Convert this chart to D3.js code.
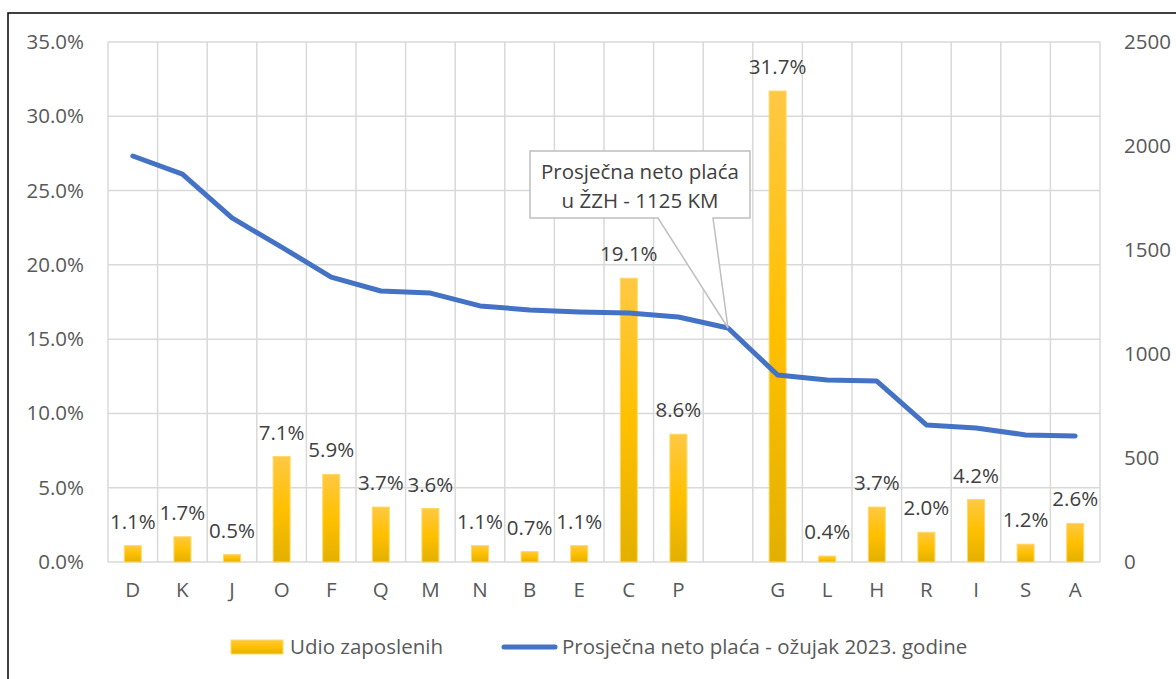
<!DOCTYPE html>
<html>
<head>
<meta charset="utf-8">
<script src="https://cdn.jsdelivr.net/npm/d3@7"></script>
<style>
  body { margin: 0; background: #fff; }
  text { font-family: "Open Sans", sans-serif; }
</style>
</head>
<body>
<div id="graph"></div>
<script>
// categories ("" = the average-wage point, no bar)
var categories = ["D","K","J","O","F","Q","M","N","B","E","C","P","","G","L","H","R","I","S","A"]
// share of employees, %
var shares = [1.1,1.7,0.5,7.1,5.9,3.7,3.6,1.1,0.7,1.1,19.1,8.6,null,31.7,0.4,3.7,2.0,4.2,1.2,2.6]
// average net wage, KM
var wages = [1952,1865,1654,1514,1370,1303,1293,1231,1212,1202,1197,1178,1125,899,875,870,659,644,611,606]
var leftTicks = [0,5,10,15,20,25,30,35]
var rightTicks = [0,500,1000,1500,2000,2500]
var barName = "Udio zaposlenih"
var lineName = "Prosječna neto plaća - ožujak 2023. godine"
var calloutLines = ["Prosječna neto plaća", "u ŽZH - 1125 KM"]

var width = 1176, height = 679
var margin = {top:42, left:108, bottom:117, right:76}
var chartWidth = width - margin.left - margin.right
var chartHeight = height - margin.top - margin.bottom

var svg = d3.select("#graph").append("svg")
    .attr("width", width).attr("height", height)

// outer frame (only left and top visible)
svg.append("rect")
    .attr("x", 8).attr("y", 13)
    .attr("width", 1200).attr("height", 700)
    .attr("fill", "none").attr("stroke", "#000").attr("stroke-width", 1.5)

var defs = svg.append("defs")
var grad = defs.append("linearGradient").attr("id", "barGrad")
    .attr("x1", 0).attr("y1", 0).attr("x2", 0).attr("y2", 1)
grad.append("stop").attr("offset", "0%").attr("stop-color", "#FFC843")
grad.append("stop").attr("offset", "50%").attr("stop-color", "#FFC000")
grad.append("stop").attr("offset", "100%").attr("stop-color", "#E3B000")

var chartLayer = svg.append("g")
    .attr("transform", "translate(" + [margin.left, margin.top] + ")")

var x = d3.scaleBand().domain(d3.range(categories.length))
    .range([0, chartWidth]).paddingInner(0).paddingOuter(0)
var y = d3.scaleLinear().domain([0, 35]).range([chartHeight, 0])
var y2 = d3.scaleLinear().domain([0, 2500]).range([chartHeight, 0])

// gridlines
var grid = chartLayer.append("g").attr("stroke", "#d9d9d9").attr("stroke-width", 1.5)
grid.selectAll("line.h").data(leftTicks).enter().append("line")
    .attr("x1", 0).attr("x2", chartWidth)
    .attr("y1", function(d){ return y(d) }).attr("y2", function(d){ return y(d) })
grid.selectAll("line.v").data(d3.range(categories.length + 1)).enter().append("line")
    .attr("x1", function(d){ return d * x.bandwidth() })
    .attr("x2", function(d){ return d * x.bandwidth() })
    .attr("y1", 0).attr("y2", chartHeight)

// left axis
var leftAxis = chartLayer.append("g")
    .call(d3.axisLeft(y).tickValues(leftTicks).tickSize(0).tickPadding(24)
        .tickFormat(function(d){ return d.toFixed(1) + "%" }))
leftAxis.select(".domain").remove()
leftAxis.selectAll("text").attr("fill", "#595959").style("font-size", "20.5px")

// right axis
var rightAxis = chartLayer.append("g")
    .attr("transform", "translate(" + chartWidth + ",0)")
    .call(d3.axisRight(y2).tickValues(rightTicks).tickSize(0).tickPadding(24)
        .tickFormat(d3.format("d")))
rightAxis.select(".domain").remove()
rightAxis.selectAll("text").attr("fill", "#595959").style("font-size", "20.5px")

// category axis
var bottomAxis = chartLayer.append("g")
    .attr("transform", "translate(0," + chartHeight + ")")
    .call(d3.axisBottom(x).tickSize(0).tickPadding(20)
        .tickFormat(function(i){ return categories[i] }))
bottomAxis.select(".domain").remove()
bottomAxis.selectAll("text").attr("fill", "#595959").style("font-size", "20.5px")

// bars
var barW = 17
var barData = shares.map(function(v, i){ return {i:i, v:v} }).filter(function(d){ return d.v !== null })
chartLayer.append("g").selectAll("rect").data(barData).enter().append("rect")
    .attr("x", function(d){ return x(d.i) + x.bandwidth()/2 - barW/2 })
    .attr("y", function(d){ return y(d.v) })
    .attr("width", barW)
    .attr("height", function(d){ return chartHeight - y(d.v) })
    .attr("fill", "url(#barGrad)")
    .attr("stroke", "#FFD966").attr("stroke-width", 1)

// line
var line = d3.line()
    .x(function(d, i){ return x(i) + x.bandwidth()/2 })
    .y(function(d){ return y2(d) })
chartLayer.append("path").datum(wages)
    .attr("d", line)
    .attr("fill", "none").attr("stroke", "#4472C4")
    .attr("stroke-width", 5).attr("stroke-linejoin", "round").attr("stroke-linecap", "round")

// bar labels
chartLayer.append("g").selectAll("text").data(barData).enter().append("text")
    .attr("x", function(d){ return x(d.i) + x.bandwidth()/2 })
    .attr("y", function(d){ return y(d.v) - 17 })
    .attr("text-anchor", "middle")
    .attr("fill", "#404040").style("font-size", "20.5px")
    .text(function(d){ return d.v.toFixed(1) + "%" })

// callout for average wage
var ci = categories.indexOf("")
var px = x(ci) + x.bandwidth()/2, py = y2(wages[ci])
var box = {x: 530 - margin.left, y: 151 - margin.top, w: 220, h: 67}
var callout = chartLayer.append("g")
callout.append("path")
    .attr("d", "M" + box.x + "," + box.y + "h" + box.w + "v" + box.h +
        "H" + (box.x + 183) + "L" + px + "," + py + "L" + (box.x + 128) + "," + (box.y + box.h) +
        "H" + box.x + "Z")
    .attr("fill", "#fff").attr("stroke", "#bfbfbf").attr("stroke-width", 1.5)
callout.selectAll("text").data(calloutLines).enter().append("text")
    .attr("x", box.x + box.w/2)
    .attr("y", function(d, i){ return box.y + 28 + i * 29 })
    .attr("text-anchor", "middle")
    .attr("fill", "#404040").style("font-size", "20.5px")
    .text(function(d){ return d })

// legend
var legend = svg.append("g")
legend.append("rect").attr("x", 231).attr("y", 640).attr("width", 52).attr("height", 14)
    .attr("fill", "url(#barGrad)").attr("stroke", "#FFD966")
legend.append("text").attr("x", 290).attr("y", 654)
    .attr("fill", "#595959").style("font-size", "20.5px").text(barName)
legend.append("line").attr("x1", 504).attr("x2", 555).attr("y1", 647).attr("y2", 647)
    .attr("stroke", "#4472C4").attr("stroke-width", 5).attr("stroke-linecap", "round")
legend.append("text").attr("x", 562).attr("y", 654)
    .attr("fill", "#595959").style("font-size", "20.5px").text(lineName)
</script>
</body>
</html>
